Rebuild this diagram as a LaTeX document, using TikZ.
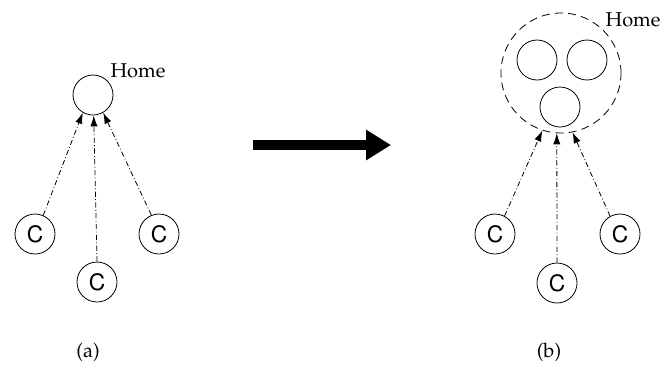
\documentclass[tikz,border=0pt]{standalone}
\usepackage[T1]{fontenc}
\usepackage{mathpazo}
\usepackage[scaled=0.95]{helvet}
\usetikzlibrary{positioning,arrows.meta}

\begin{document}
\begin{tikzpicture} [
                x=0.5pt, y=-0.5pt,
                hostnode/.style={
                    circle,
                    draw,
                    inner sep=0pt,
                    minimum size=20pt
                },
                clientnode/.style={
                    hostnode,
                    font=\sffamily\large
                },
                homenode/.style={
                    circle,
                    draw,
                    dash pattern=on 4pt off 2.6pt,
                    inner sep=0pt,
                    minimum size=60pt
                },
                reqline/.style={
                    -{Latex[length=5.5pt,width=3.6pt]},
                    dash pattern=on 2.6pt off 1.2pt on 0.4pt off 1.2pt
                },
                bigarrow/.style={
                    -{Triangle[length=12.5pt,width=14.5pt]},
                    line width=5.3pt
                }
            ]
                \useasboundingbox (0,0) rectangle (662,366);
                % (a) single home
                \node[hostnode] (homeA) at (93,95) {};
                \node (homeAlbl) at (138,71) {Home};
                \node[clientnode] (ca1) at (35,234) {C};
                \node[clientnode] (ca2) at (97,282) {C};
                \node[clientnode] (ca3) at (159,234) {C};
                \draw[reqline] (ca1.66) -- (homeA.240);
                \draw[reqline] (ca2.north) -- (homeA.272);
                \draw[reqline] (ca3.112) -- (homeA.300);
                \node (capA) at (88,352) {(a)};
                % transition
                \coordinate (arr0) at (253,145);
                \coordinate (arr1) at (391,145);
                \draw[bigarrow] (arr0) -- (arr1);
                % (b) replicated home
                \node[homenode] (homeB) at (561,73) {};
                \node[hostnode] (hb1) at (537,60) {};
                \node[hostnode] (hb2) at (587,60) {};
                \node[hostnode] (hb3) at (560,107) {};
                \node (homeBlbl) at (633,20) {Home};
                \node[clientnode] (cb1) at (495,234) {C};
                \node[clientnode] (cb2) at (557,283) {C};
                \node[clientnode] (cb3) at (620,234) {C};
                \draw[reqline] (cb1.62) -- (homeB.252);
                \draw[reqline] (cb2.north) -- (homeB.266);
                \draw[reqline] (cb3.119) -- (homeB.281);
                \node (capB) at (549,352) {(b)};
            \end{tikzpicture}
\end{document}
